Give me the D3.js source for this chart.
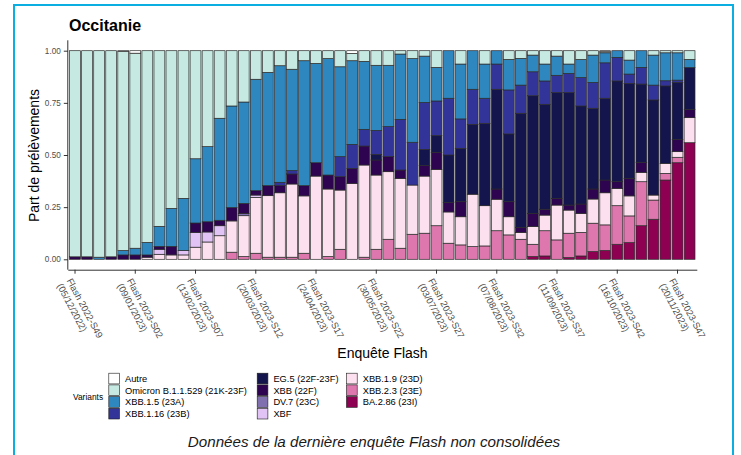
<!DOCTYPE html>
<html>
<head>
<meta charset="utf-8">
<script src="https://cdn.jsdelivr.net/npm/d3@7"></script>
<style>
	body { margin: 0; background: #fff; }
	svg { font-family: "Liberation Sans", Arial, sans-serif; }
</style>
</head>
<body>
<svg id="chart" width="741" height="455"></svg>
<script>
// weeks of the Flash survey (one bar each)
var weeks = ["2022-S49", "2022-S50", "2022-S51", "2022-S52",
	"2023-S01", "2023-S02", "2023-S03", "2023-S04", "2023-S05", "2023-S06", "2023-S07", "2023-S08",
	"2023-S09", "2023-S10", "2023-S11", "2023-S12", "2023-S13", "2023-S14", "2023-S15", "2023-S16",
	"2023-S17", "2023-S18", "2023-S19", "2023-S20", "2023-S21", "2023-S22", "2023-S23", "2023-S24",
	"2023-S25", "2023-S26", "2023-S27", "2023-S28", "2023-S29", "2023-S30", "2023-S31", "2023-S32",
	"2023-S33", "2023-S34", "2023-S35", "2023-S36", "2023-S37", "2023-S38", "2023-S39", "2023-S40",
	"2023-S41", "2023-S42", "2023-S43", "2023-S44", "2023-S45", "2023-S46", "2023-S47", "2023-S48"];

var tickWeeks = ["2022-S49", "2023-S02", "2023-S07", "2023-S12", "2023-S17", "2023-S22",
	"2023-S27", "2023-S32", "2023-S37", "2023-S42", "2023-S47"];
var tickDates = ["05/12/2022", "09/01/2023", "13/02/2023", "20/03/2023", "24/04/2023", "30/05/2023",
	"03/07/2023", "07/08/2023", "11/09/2023", "16/10/2023", "20/11/2023"];

// share of samples per variant, one value per week
var autre = [0, 0, 0, 0, .004, .012, 0, 0, 0, 0, 0, 0, 0, 0, 0, 0, 0, 0, 0, 0,
	0, 0, 0, .013, 0, 0, 0, 0, 0, 0, 0, 0, 0, 0, 0, 0, 0, 0, 0, 0,
	0, 0, 0, 0, .005, 0, 0, 0, 0, 0, 0, 0];
var omicron = [.988, .988, .99, .988, .954, .935, .92, .842, .756, .708, .518, .46, .324, .265, .246, .137, .104, .072, .089, .048,
	.061, .038, .077, .035, .051, .07, .07, .016, .038, .026, .08, 0, .064, 0, .064, 0, .042, .037, .021, .064,
	.026, .064, .042, .021, .005, 0, .045, 0, .021, .01, .01, .042];
var xbb15 = [0, 0, .01, 0, .021, .032, .06, .096, .182, .25, .308, .36, .489, .487, .486, .534, .543, .559, .486, .599,
	.476, .558, .431, .401, .326, .312, .294, .313, .401, .222, .161, .228, .263, .185, .164, .064, .146, .128, .08, .081,
	.092, .045, .087, .131, .048, .032, .067, .08, .144, .134, .131, .039];
var xbb116 = [0, 0, 0, 0, 0, 0, 0, 0, 0, 0, 0, 0, 0, 0, 0, 0, 0, .016, .016, 0,
	0, 0, .096, .115, .08, .115, .144, .243, .205, .225, .166, .272, .141, .168, .12, .121, .211, .135, .115, .112,
	.083, .092, .136, .124, .17, .113, .045, .08, .071, .025, .011, 0];
var eg5 = [0, 0, 0, 0, 0, 0, 0, 0, 0, 0, 0, 0, 0, 0, 0, 0, 0, 0, 0, 0,
	0, 0, 0, 0, 0, .027, 0, 0, 0, .078, .08, .228, .256, .335, .395, .478, .325, .547, .564, .503,
	.507, .539, .47, .387, .392, .483, .455, .375, .456, .371, .273, .2];
var xbb = [.012, .012, 0, .012, .021, .021, .011, .014, .041, 0, .045, .049, .026, .064, .048, .021, .048, .034, .048, .049,
	.064, .067, .064, .072, .091, .072, .072, .04, 0, .05, .082, .045, .072, 0, 0, .049, .072, .024, .063, .028,
	.032, .024, .045, .048, .061, .032, .084, .048, 0, 0, .059, .04];
var dv7 = [0, 0, 0, 0, 0, 0, 0, 0, 0, 0, 0, 0, 0, 0, .011, 0, 0, 0, 0, 0,
	0, 0, 0, 0, 0, 0, 0, 0, 0, 0, 0, 0, 0, 0, 0, 0, 0, 0, 0, 0,
	0, 0, 0, 0, 0, 0, 0, 0, 0, 0, 0, 0];
var xbf = [0, 0, 0, 0, 0, 0, 0, .024, 0, .021, .071, .048, .048, 0, 0, .011, 0, 0, 0, 0,
	0, 0, 0, 0, 0, 0, 0, 0, 0, 0, 0, 0, 0, 0, 0, 0, 0, 0, 0, 0,
	0, 0, 0, 0, 0, 0, 0, 0, 0, 0, 0, 0];
var xbb19 = [0, 0, 0, 0, 0, 0, .01, .024, .021, .021, .058, .083, .113, .15, .196, .268, .295, .309, .351, .275,
	.399, .324, .284, .364, .442, .356, .324, .335, .236, .274, .27, .15, .135, .251, .193, .151, .087, .033, .085, .075,
	.167, .111, .091, .116, .154, .083, .096, .045, .024, .048, .027, .12];
var xbb23 = [0, 0, 0, 0, 0, 0, 0, 0, 0, 0, 0, 0, 0, .034, .013, .029, .01, .01, .01, .029,
	0, .013, .048, 0, .01, .048, .096, .053, .12, .125, .161, .077, .069, .061, .064, .137, .117, .096, .059, .121,
	.093, .117, .113, .136, .123, .185, .128, .211, .092, .032, .026, 0];
var ba286 = [0, 0, 0, 0, 0, 0, 0, 0, 0, 0, 0, 0, 0, 0, 0, 0, 0, 0, 0, 0,
	0, 0, 0, 0, 0, 0, 0, 0, 0, 0, 0, 0, 0, 0, 0, 0, 0, 0, .013, .016,
	0, .008, .016, .037, .042, .072, .08, .161, .192, .38, .463, .559];

var variantNames = ["Autre", "Omicron B.1.1.529 (21K-23F)", "XBB.1.5 (23A)", "XBB.1.16 (23B)",
	"EG.5 (22F-23F)", "XBB (22F)", "DV.7 (23C)", "XBF",
	"XBB.1.9 (23D)", "XBB.2.3 (23E)", "BA.2.86 (23I)"];
var variantColors = ["#ffffff", "#c6e9e1", "#2f87c0", "#33349a",
	"#14154d", "#2e0450", "#8070b0", "#e2c3f5",
	"#fde0ef", "#de77ae", "#8e0152"];
var variantValues = [autre, omicron, xbb15, xbb116, eg5, xbb, dv7, xbf, xbb19, xbb23, ba286];

var svg = d3.select("#chart");

var rows = weeks.map(function (w, i) {
	var r = { week: w };
	variantNames.forEach(function (v, j) {
		r[v] = variantValues[j][i];
	});
	return r;
});

var color = d3.scaleOrdinal().domain(variantNames).range(variantColors);

// first legend entry sits on top of the stack
var stack = d3.stack()
	.keys(variantNames.slice().reverse())
	.offset(d3.stackOffsetExpand);
var layers = stack(rows);

var x = d3.scaleBand()
	.domain(weeks)
	.range([67.8, 696.8])
	.paddingInner(0.1)
	.paddingOuter(0.15);

var y = d3.scaleLinear()
	.domain([0, 1])
	.range([259.3, 50.7]);

var panelTop = 40.3, panelBottom = 269.7;

// bars
svg.append("g")
	.selectAll("g")
	.data(layers)
	.enter()
	.append("g")
	.attr("fill", function (d) { return color(d.key); })
	.selectAll("rect")
	.data(function (d) { return d.filter(function (s) { return s[1] - s[0] > 0; }); })
	.enter()
	.append("rect")
	.attr("x", function (d) { return x(d.data.week); })
	.attr("width", x.bandwidth())
	.attr("y", function (d) { return y(d[1]); })
	.attr("height", function (d) { return y(d[0]) - y(d[1]); })
	.attr("stroke", "#2a2a2a")
	.attr("stroke-width", 0.7);

// y axis
var yAxis = svg.append("g")
	.attr("transform", "translate(67.8,0)")
	.call(d3.axisLeft(y)
		.tickValues([0, 0.25, 0.5, 0.75, 1])
		.tickFormat(d3.format(".2f"))
		.tickSize(4)
		.tickPadding(3));
yAxis.select(".domain").remove();
yAxis.selectAll("line").attr("stroke", "#333");
yAxis.selectAll("text")
	.style("font-size", "8.2px")
	.style("font-family", "Liberation Sans, Arial, sans-serif")
	.attr("fill", "#4d4d4d");

svg.append("line")
	.attr("x1", 67.8).attr("x2", 67.8)
	.attr("y1", panelTop).attr("y2", panelBottom)
	.attr("stroke", "#1a1a1a")
	.attr("stroke-width", 0.9);

// x axis
var xAxis = svg.append("g")
	.attr("transform", "translate(0," + panelBottom + ")")
	.call(d3.axisBottom(x)
		.tickValues(tickWeeks)
		.tickSize(4)
		.tickSizeOuter(0)
		.tickFormat(""));
xAxis.select(".domain").attr("stroke", "#1a1a1a").attr("stroke-width", 0.9);
xAxis.selectAll("line").attr("stroke", "#333");

var xLabels = svg.append("g")
	.selectAll("text")
	.data(tickWeeks)
	.enter()
	.append("text")
	.attr("transform", function (d) {
		return "translate(" + (x(d) + x.bandwidth() / 2 - 2) + ",277) rotate(62)";
	})
	.style("font-size", "9.4px")
	.attr("fill", "#4d4d4d");
xLabels.append("tspan")
	.attr("x", 0)
	.attr("y", 7.5)
	.text(function (d) { return "Flash " + d; });
xLabels.append("tspan")
	.attr("x", 0)
	.attr("y", 18.5)
	.text(function (d, i) { return "(" + tickDates[i] + ")"; });

// titles
svg.append("text")
	.attr("x", 69)
	.attr("y", 31)
	.style("font-size", "16px")
	.style("font-weight", "bold")
	.text("Occitanie");

svg.append("text")
	.attr("transform", "translate(39,155.5) rotate(-90)")
	.attr("text-anchor", "middle")
	.style("font-size", "14px")
	.text("Part de prélèvements");

svg.append("text")
	.attr("x", 382.5)
	.attr("y", 358)
	.attr("text-anchor", "middle")
	.style("font-size", "14px")
	.text("Enquête Flash");

// legend
var legendCols = [108.3, 256.7, 346];
var legendTop = 372.7, keySize = 11.7;

svg.append("text")
	.attr("x", 73)
	.attr("y", 400)
	.style("font-size", "8.4px")
	.text("Variants");

var legend = svg.append("g")
	.selectAll("g")
	.data(variantNames)
	.enter()
	.append("g")
	.attr("transform", function (d, i) {
		return "translate(" + legendCols[Math.floor(i / 4)] + "," + (legendTop + (i % 4) * keySize) + ")";
	});
legend.append("rect")
	.attr("x", 0.5)
	.attr("y", 0.5)
	.attr("width", keySize - 1)
	.attr("height", keySize - 1)
	.attr("fill", function (d) { return color(d); })
	.attr("stroke", "#1a1a1a")
	.attr("stroke-width", 0.6);
legend.append("text")
	.attr("x", keySize + 5)
	.attr("y", keySize / 2 + 3.3)
	.style("font-size", "9.3px")
	.text(function (d) { return d; });

// footer note
svg.append("text")
	.attr("x", 374)
	.attr("y", 447)
	.attr("text-anchor", "middle")
	.style("font-size", "15.2px")
	.style("font-style", "italic")
	.attr("fill", "#1a1a1a")
	.text("Données de la dernière enquête Flash non consolidées");

// frame
svg.append("path")
	.attr("d", "M14,460 V5 H733 V460")
	.attr("fill", "none")
	.attr("stroke", "#0aaee0")
	.attr("stroke-width", 2);
</script>
</body>
</html>
